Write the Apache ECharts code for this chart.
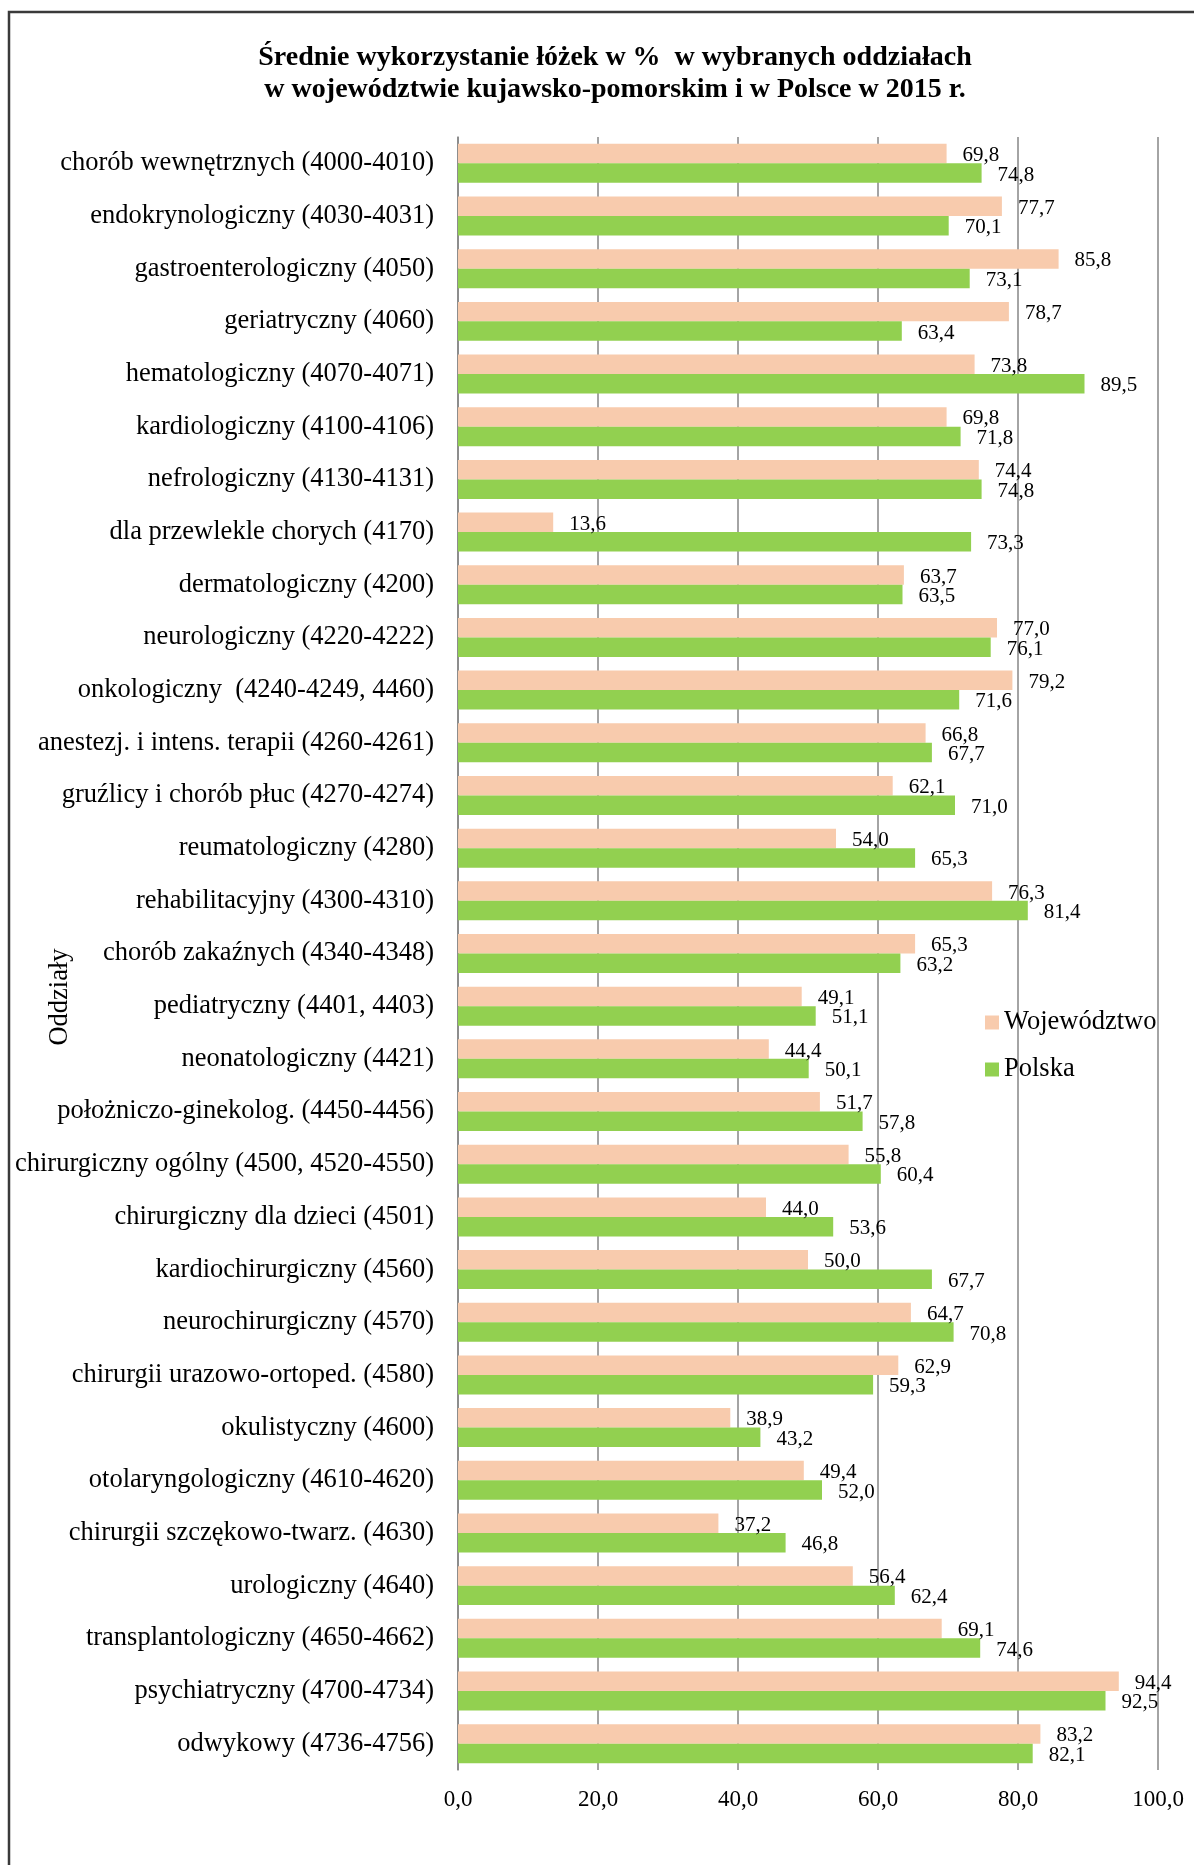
<!DOCTYPE html>
<html>
<head>
<meta charset="utf-8">
<script src="https://cdn.jsdelivr.net/npm/echarts@6/dist/echarts.min.js"></script>
<style>
html,body{margin:0;padding:0;background:#fff;}
#chart{width:1194px;height:1865px;}
</style>
</head>
<body>
<div id="chart"></div>
<script>
const categories = [
  'chorób wewnętrznych (4000-4010)',
  'endokrynologiczny (4030-4031)',
  'gastroenterologiczny (4050)',
  'geriatryczny (4060)',
  'hematologiczny (4070-4071)',
  'kardiologiczny (4100-4106)',
  'nefrologiczny (4130-4131)',
  'dla przewlekle chorych (4170)',
  'dermatologiczny (4200)',
  'neurologiczny (4220-4222)',
  'onkologiczny  (4240-4249, 4460)',
  'anestezj. i intens. terapii (4260-4261)',
  'gruźlicy i chorób płuc (4270-4274)',
  'reumatologiczny (4280)',
  'rehabilitacyjny (4300-4310)',
  'chorób zakaźnych (4340-4348)',
  'pediatryczny (4401, 4403)',
  'neonatologiczny (4421)',
  'położniczo-ginekolog. (4450-4456)',
  'chirurgiczny ogólny (4500, 4520-4550)',
  'chirurgiczny dla dzieci (4501)',
  'kardiochirurgiczny (4560)',
  'neurochirurgiczny (4570)',
  'chirurgii urazowo-ortoped. (4580)',
  'okulistyczny (4600)',
  'otolaryngologiczny (4610-4620)',
  'chirurgii szczękowo-twarz. (4630)',
  'urologiczny (4640)',
  'transplantologiczny (4650-4662)',
  'psychiatryczny (4700-4734)',
  'odwykowy (4736-4756)'
];
const wojewodztwo = [69.8, 77.7, 85.8, 78.7, 73.8, 69.8, 74.4, 13.6, 63.7, 77.0, 79.2, 66.8, 62.1, 54.0, 76.3, 65.3, 49.1, 44.4, 51.7, 55.8, 44.0, 50.0, 64.7, 62.9, 38.9, 49.4, 37.2, 56.4, 69.1, 94.4, 83.2];
const polska = [74.8, 70.1, 73.1, 63.4, 89.5, 71.8, 74.8, 73.3, 63.5, 76.1, 71.6, 67.7, 71.0, 65.3, 81.4, 63.2, 51.1, 50.1, 57.8, 60.4, 53.6, 67.7, 70.8, 59.3, 43.2, 52.0, 46.8, 62.4, 74.6, 92.5, 82.1];
const xTicks = [0, 20, 40, 60, 80, 100];
const seriesNames = ['Województwo', 'Polska'];
const titleLines = ['Średnie wykorzystanie łóżek w %  w wybranych oddziałach', 'w województwie kujawsko-pomorskim i w Polsce w 2015 r.'];
const axisName = 'Oddziały';

const FONT = '"Liberation Serif", "Times New Roman", serif';
const fmt = v => v.toFixed(1).replace('.', ',');

const chart = echarts.init(document.getElementById('chart'), null, {renderer: 'canvas'});
const labelStyle = {
  show: true, position: 'right', distance: 16, offset: [0, 2],
  fontFamily: FONT, fontSize: 21, color: '#000',
  formatter: p => fmt(p.value)
};
chart.setOption({
  animation: false,
  backgroundColor: '#fff',
  grid: {left: 458, right: 36, top: 137, bottom: 95, containLabel: false},
  xAxis: {
    type: 'value', min: xTicks[0], max: xTicks[xTicks.length - 1], interval: 20,
    axisLine: {show: false}, axisTick: {show: false},
    splitLine: {show: true, lineStyle: {color: '#868686', width: 1.5}},
    axisLabel: {fontFamily: FONT, fontSize: 23, color: '#000', margin: 18, formatter: v => fmt(v)}
  },
  yAxis: {
    type: 'category', data: categories, inverse: true,
    axisLine: {show: true, lineStyle: {color: '#868686', width: 1.5}},
    axisTick: {show: false},
    axisLabel: {fontFamily: FONT, fontSize: 26.5, color: '#000', margin: 24, padding: [8, 0, 0, 0]}
  },
  legend: {
    orient: 'vertical', left: 980, top: 1004, itemWidth: 14, itemHeight: 14, itemGap: 20,
    icon: 'rect', textStyle: {fontFamily: FONT, fontSize: 26.5, color: '#000'},
    data: seriesNames
  },
  series: [
    {name: seriesNames[0], type: 'bar', data: wojewodztwo, barGap: '0%', barCategoryGap: '26%',
     itemStyle: {color: '#F8CBAD'}, label: labelStyle},
    {name: seriesNames[1], type: 'bar', data: polska, barGap: '0%', barCategoryGap: '26%',
     itemStyle: {color: '#92D050'}, label: labelStyle}
  ],
  graphic: [
    {type: 'rect', shape: {x: 9, y: 12, width: 1400, height: 2000}, style: {fill: 'none', stroke: '#3a3a3a', lineWidth: 2.5}, silent: true},
    {type: 'text', x: 615, y: 58, style: {text: titleLines[0], fontFamily: FONT, fontSize: 28, fontWeight: 'bold', fill: '#000', textAlign: 'center', textVerticalAlign: 'middle'}},
    {type: 'text', x: 615, y: 90, style: {text: titleLines[1], fontFamily: FONT, fontSize: 28, fontWeight: 'bold', fill: '#000', textAlign: 'center', textVerticalAlign: 'middle'}},
    {type: 'text', x: 60, y: 997, rotation: Math.PI / 2, style: {text: axisName, fontFamily: FONT, fontSize: 26.5, fill: '#000', textAlign: 'center', textVerticalAlign: 'middle'}}
  ]
});
</script>
</body>
</html>
